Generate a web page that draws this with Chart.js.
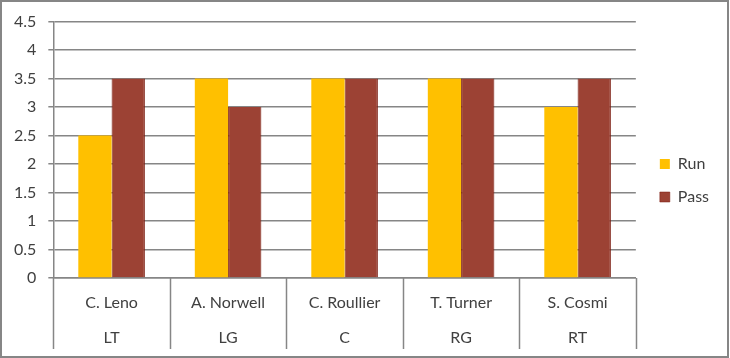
<!DOCTYPE html>
<html>
<head>
<meta charset="utf-8">
<script src="https://cdn.jsdelivr.net/npm/chart.js@4/dist/chart.umd.min.js"></script>
<style>
  html, body { margin: 0; padding: 0; background: #fff; }
  #wrap { width: 730px; height: 358px; position: relative; }
</style>
</head>
<body>
<div id="wrap"><canvas id="c" width="730" height="358"></canvas></div>
<script>
const categories = ['C. Leno', 'A. Norwell', 'C. Roullier', 'T. Turner', 'S. Cosmi'];
const positions = ['LT', 'LG', 'C', 'RG', 'RT'];
const seriesNames = ['Run', 'Pass'];
const runValues = [2.5, 3.5, 3.5, 3.5, 3.0];
const passValues = [3.5, 3.0, 3.5, 3.5, 3.5];

const labels = categories.map((c, i) => [c, positions[i]]);

const FONT = 'Lato, "Open Sans", sans-serif';
const TXT = '#404040';
const GRID = '#868686';

const borderPlugin = {
  id: 'outerBorder',
  afterDraw(chart) {
    const ctx = chart.ctx;
    ctx.save();
    ctx.strokeStyle = GRID;
    ctx.lineWidth = 2;
    ctx.strokeRect(1, 1, chart.width - 3, chart.height - 2);
    ctx.restore();
  }
};

// vertical separators between the two-level category labels
const separatorPlugin = {
  id: 'catSeparators',
  afterDraw(chart) {
    const sx = chart.scales.x;
    const ctx = chart.ctx;
    ctx.save();
    ctx.strokeStyle = GRID;
    ctx.lineWidth = 1.5;
    for (let i = 0; i <= sx.ticks.length; i++) {
      const x = Math.round(sx.getPixelForValue(i - 0.5)) + 0.5;
      ctx.beginPath();
      ctx.moveTo(x, sx.top);
      ctx.lineTo(x, sx.top + 71);
      ctx.stroke();
    }
    ctx.restore();
  }
};

// nudge legend position without changing the plot area
const legendShift = {
  id: 'legendShift',
  afterLayout(chart) {
    const lg = chart.legend;
    if (!lg) return;
    const dx = 7, dy = -3;
    lg.left += dx; lg.right += dx;
    lg.top += dy; lg.bottom += dy;
  }
};

new Chart(document.getElementById('c'), {
  type: 'bar',
  data: {
    labels: labels,
    datasets: [
      { label: seriesNames[0], data: runValues, backgroundColor: '#FFC000', borderWidth: 0 },
      { label: seriesNames[1], data: passValues, backgroundColor: '#9C4234', borderColor: '#7A1A0E', borderWidth: { left: 1, right: 1, top: 0, bottom: 0 } }
    ]
  },
  options: {
    responsive: false,
    animation: false,
    devicePixelRatio: 1,
    layout: { padding: { left: 2, top: 13, right: 18, bottom: 4 } },
    datasets: { bar: { barPercentage: 1, categoryPercentage: 2 / 3.5 } },
    plugins: {
      tooltip: { enabled: false },
      legend: {
        position: 'right',
        align: 'center',
        labels: {
          boxWidth: 10, boxHeight: 10, padding: 17,
          color: TXT,
          font: { family: FONT, size: 16 }
        }
      }
    },
    scales: {
      x: {
        grid: { offset: true, drawOnChartArea: false, drawTicks: false, color: GRID },
        border: { color: GRID, width: 1.5 },
        ticks: { padding: 7, color: TXT, autoSkip: false, maxRotation: 0, font: { family: FONT, size: 16, lineHeight: '35px' } },
        afterFit(scale) { scale.height -= 8; }
      },
      y: {
        min: 0, max: 4.5,
        ticks: { stepSize: 0.5, padding: 12, color: TXT, font: { family: FONT, size: 16 }, callback: v => String(v) },
        grid: { color: GRID, tickLength: 5, lineWidth: 1.5 },
        border: { color: GRID, width: 1.5 }
      }
    }
  },
  plugins: [borderPlugin, separatorPlugin, legendShift]
});
</script>
</body>
</html>
